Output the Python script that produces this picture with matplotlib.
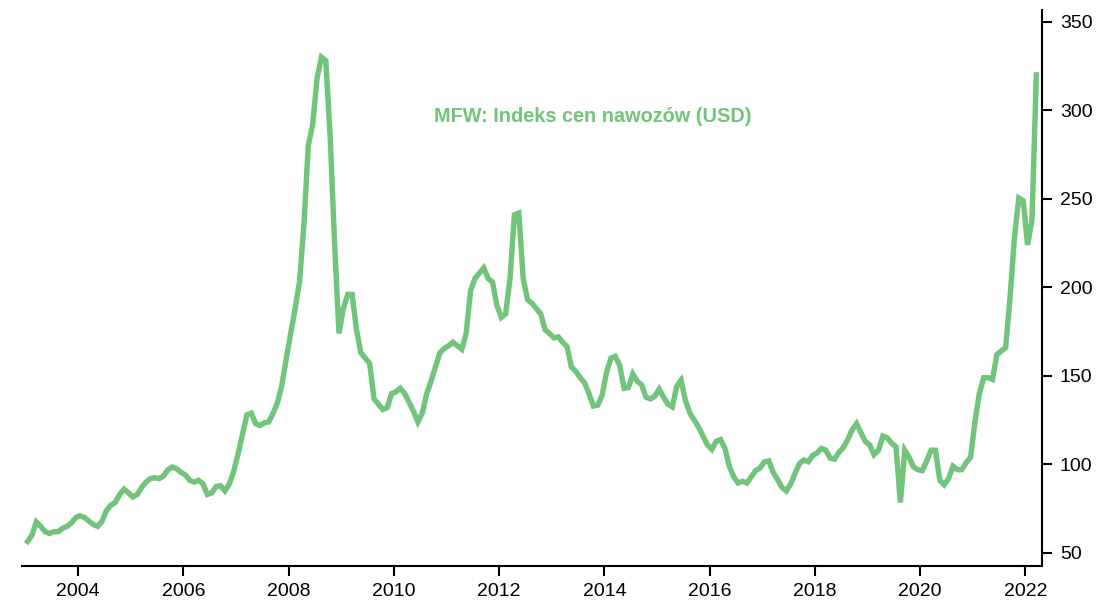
import matplotlib
matplotlib.use("Agg")
import matplotlib.pyplot as plt
import numpy as np

plt.rcParams['font.family'] = ['Liberation Sans', 'DejaVu Sans']

# MFW fertilizer price index (USD), monthly, 2003-01 .. 2022-03
start_year = 2003
values = [
    # 2003
    56.5, 60, 67.5, 65, 62, 61, 62, 62, 64, 65, 67, 70,
    # 2004
    71, 70, 68, 66, 65, 68, 74, 77, 78.5, 83, 86, 84,
    # 2005
    81.6, 83, 87, 90, 92, 92.5, 92, 93.5, 97, 98.5, 97.5, 95.5,
    # 2006
    94, 91, 90, 91, 89, 83, 84, 87.5, 88, 85, 89, 96,
    # 2007
    106, 117, 128, 129, 123, 122, 123.5, 124, 129, 135, 145, 160,
    # 2008
    174, 188, 203, 235, 280, 292, 318, 330, 328, 285, 225, 174,
    # 2009
    188, 196, 196, 176, 163, 160, 157, 137, 134, 131, 132, 140,
    # 2010
    141, 143, 140, 135, 130, 124, 129, 140, 147, 155, 163, 165.5,
    # 2011
    167, 169, 167, 165, 174, 198, 205, 208, 211, 205, 203, 190,
    # 2012
    183, 185, 205, 241, 242, 205, 193, 191, 188, 185, 176, 174,
    # 2013
    171.5, 172, 169, 166.5, 155, 152.5, 149, 146, 140, 133, 133.5, 139,
    # 2014
    152, 160, 161, 156, 143, 143.5, 151, 147, 145, 138, 137, 138.5,
    # 2015
    142.5, 138, 134, 132.5, 144, 147.5, 136, 129, 125, 121, 116, 111,
    # 2016
    108.5, 113, 114, 109, 99, 93, 89.5, 90.5, 89.5, 93, 96.5, 98,
    # 2017
    101.5, 102, 95.5, 91.5, 87, 85, 89, 95, 100.5, 102.5, 101.5, 105,
    # 2018
    106.5, 109, 108, 103.5, 103, 107, 109.5, 114, 119.5, 123, 118, 113,
    # 2019
    111, 105.5, 108, 116, 115, 112, 110, 78.5, 108, 104, 98.5, 97,
    # 2020
    96.5, 102, 108, 108, 91, 88.5, 92, 99, 97, 97, 101, 104,
    # 2021
    124, 140, 149, 149, 148, 162, 164, 166, 194, 228, 250.5, 249,
    # 2022
    224, 238, 320,
]

year_ticks = [2004, 2006, 2008, 2010, 2012, 2014, 2016, 2018, 2020, 2022]
value_ticks = [50, 100, 150, 200, 250, 300, 350]
title = 'MFW: Indeks cen nawozów (USD)'
green = '#71C47A'

# mid-month positions in fractional years
t = start_year + (np.arange(len(values)) + 0.5) / 12

fig = plt.figure(figsize=(11, 6.02), dpi=100)
ax = fig.add_axes([0.02, 0.06, 0.927, 0.923])

ax.plot(t, values, color=green, lw=3.9, solid_joinstyle='miter')

ax.set_xlim(2002.936, 2022.31)
ax.set_ylim(42.7, 356.5)

ax.yaxis.tick_right()
ax.spines['left'].set_visible(False)
ax.spines['top'].set_visible(False)
ax.spines['right'].set_linewidth(1.5)
ax.spines['bottom'].set_linewidth(1.5)

ax.set_xticks(year_ticks)
ax.set_xticklabels([str(y) for y in year_ticks])
ax.set_yticks(value_ticks)
ax.tick_params(axis='both', labelsize=14, length=7, width=1.5, direction='out')
ax.tick_params(axis='y', pad=6)
ax.tick_params(axis='x', pad=5)

ax.text(0.56, 0.808, title, transform=ax.transAxes, ha='center', va='center',
        color=green, fontsize=14.3, fontweight='bold')

fig.savefig('out.png', dpi=100)
